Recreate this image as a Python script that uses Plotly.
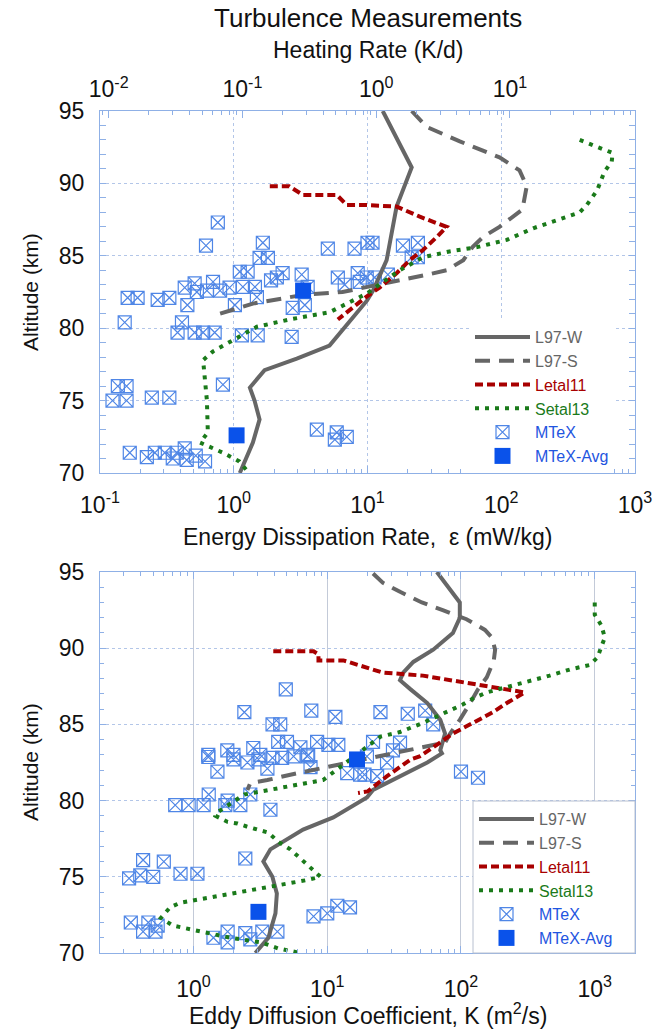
import math
import plotly.graph_objects as go

# ---------------- data ----------------
# Upper panel: energy dissipation rate (mW/kg) vs altitude (km)
l97w_eps = [13, 21.4, 16.5, 13.9, 11, 9.9, 5.2, 2.96, 1.7, 1.32, 1.43, 1.56, 1.39, 1.11]
l97w_alt = [95, 91.1, 88.4, 84.7, 82.6, 81.9, 78.8, 77.9, 77.1, 75.9, 75.0, 73.7, 72.1, 70.0]

l97s_eps = [21.4, 27.7, 49, 97, 137, 155, 144, 97, 73, 61, 52, 39, 28, 14, 6.5, 3.3, 1.39, 0.79]
l97s_alt = [95, 93.9, 92.9, 91.8, 90.9, 89.8, 88.2, 87.0, 86.3, 85.6, 84.7, 84.0, 83.7, 83.1,
            82.5, 82.3, 81.7, 81.0]

letal_eps = [1.86, 2.6, 3.3, 5.9, 7.0, 9.9, 16.5, 24.6, 39, 33, 26, 20.7, 16.5, 12.3, 9.9, 7.8, 6.0]
letal_alt = [89.8, 89.8, 89.2, 89.2, 88.5, 88.5, 88.4, 87.7, 87.0, 86.3, 85.4, 84.7, 83.8,
             82.8, 82.2, 81.4, 80.6]

setal_eps = [386, 575, 680, 670, 590, 520, 435, 386, 274, 173, 110, 66, 41, 26, 17.4, 12.3, 9.9,
             5.2, 2.6, 1.49, 0.98, 0.70, 0.59, 0.63, 0.64, 0.56, 0.83, 1.1, 1.3]
setal_alt = [93.0, 92.4, 92.1, 91.5, 90.8, 89.5, 88.5, 88.0, 87.5, 86.9, 86.1, 85.6, 85.3, 84.9,
             84.0, 83.0, 82.4, 81.1, 80.6, 80.1, 79.2, 78.4, 77.8, 75.0, 72.8, 72.1, 71.4, 70.8, 70.0]

mtex_eps = [0.76, 0.62, 1.65, 5.05, 1.56, 1.80, 10.0, 8.0, 10.9, 18.4, 23.8, 21.4, 23.8,
            0.161, 0.191, 0.27, 0.33, 0.43, 0.45, 0.53, 0.63, 0.70, 0.79, 0.93, 1.02, 1.11, 1.27,
            1.17, 1.44, 1.49, 2.10, 2.32, 3.22, 3.57, 2.76, 3.40, 6.0, 6.76, 8.45, 8.75, 9.87,
            11.3, 14.2, 0.51, 1.9,
            0.153, 0.38, 0.41, 0.51, 0.59, 0.72, 1.15, 1.51, 2.71,
            0.83, 0.136, 0.158, 0.124, 0.158, 0.244, 0.33,
            0.167, 0.224, 0.257, 0.305, 0.375, 0.43, 0.445, 0.61, 0.35, 0.52,
            4.18, 5.89, 5.7, 7.0]
mtex_alt = [87.3, 85.7, 85.9, 85.5, 84.85, 84.85, 85.9, 85.5, 85.9, 85.7, 85.9, 84.9, 84.9,
            82.1, 82.1, 81.95, 82.1, 82.8, 81.6, 82.5, 82.6, 83.2, 82.6, 82.8, 81.6, 83.9, 83.9,
            82.85, 82.85, 82.15, 83.5, 83.8, 83.7, 82.85, 81.4, 81.6, 83.5, 83.0, 83.8, 83.2, 83.5,
            83.5, 83.7, 83.1, 83.3,
            80.4, 79.7, 80.4, 79.7, 79.7, 79.7, 79.5, 79.5, 79.4,
            76.1, 76.0, 76.0, 75.0, 75.0, 75.2, 75.2,
            71.4, 71.1, 71.4, 71.4, 71.4, 71.7, 70.9, 70.8, 71.0, 71.2,
            73.0, 72.8, 72.3, 72.5]

avg_eps = [3.3, 1.05]
avg_alt = [82.6, 72.6]

# Lower panel: eddy diffusion coefficient (m^2/s) vs altitude (km)
l97w_k = [66, 83, 98, 98, 87, 62, 44, 37, 35, 42, 56, 70, 76, 70, 72, 56, 35, 22, 19.8, 11.1,
          6.6, 4.6, 3.76, 3.33, 3.89, 4.2, 4.1, 3.63, 2.9]
l97w_k_alt = [95, 93.8, 93.0, 92.0, 91.0, 89.9, 89.1, 88.4, 87.9, 87.3, 86.4, 85.3, 84.4, 83.3,
              83.1, 82.5, 81.6, 80.7, 80.2, 78.9, 78.1, 77.3, 76.8, 76.0, 75.0, 73.9, 72.6, 71.0, 70.0]

l97s_k = [22, 26, 35, 51, 73, 110, 151, 170, 180, 176, 156, 134, 117, 98, 83, 76, 35, 21, 10.5,
          7.5, 5.3, 3.57, 2.66, 2.53]
l97s_k_alt = [94.9, 94.3, 93.7, 93.0, 92.5, 91.9, 91.2, 90.7, 89.9, 89.2, 88.1, 87.3, 86.4, 85.3,
              84.4, 83.8, 83.2, 82.8, 82.3, 82.0, 81.7, 81.35, 81.15, 80.7]

letal_k = [3.95, 7.9, 8.6, 8.6, 13.2, 16.7, 20, 26, 52, 98, 195, 300, 220, 173, 123, 87, 62, 49,
           42, 28, 20, 17]
letal_k_alt = [89.8, 89.8, 89.6, 89.2, 89.2, 88.9, 88.7, 88.4, 88.2, 87.8, 87.4, 87.1, 86.4, 85.8,
               85.1, 84.4, 83.5, 82.9, 82.7, 81.6, 80.6, 80.5]

setal_k = [1000, 1000, 1120, 1190, 1120, 1050, 918, 650, 460, 310, 220, 156, 123, 103, 73, 52, 35,
           25, 9.3, 5.5, 3.6, 2.4, 1.49, 1.46, 1.8, 2.13, 2.5, 3.06, 3.63, 4.3, 5.3, 6.3, 7.5, 8.9,
           7.2, 5.3, 3.57, 2.0, 1.19, 0.8, 0.67, 0.57, 0.70, 1.0, 1.23, 1.89, 3.2, 4.3, 6.3]
setal_k_alt = [93.0, 92.2, 91.5, 90.7, 90.1, 89.4, 88.9, 88.6, 88.2, 87.8, 87.5, 87.1, 86.7, 86.3,
               85.7, 85.1, 84.5, 84.2, 81.35, 81.0, 80.7, 80.4, 79.2, 79.0, 78.6, 78.5, 78.3, 78.1,
               77.9, 77.3, 76.8, 76.2, 75.6, 75.0, 74.8, 74.6, 74.3, 73.9, 73.6, 73.3, 73.0, 72.3,
               71.8, 71.5, 71.3, 71.0, 70.7, 70.3, 70.0]

mtex_k = [4.9, 2.4, 7.6, 11.5, 3.9, 4.45, 25, 40, 54, 62,
          1.29, 1.79, 1.99, 2.8, 3.16, 4.3, 5.0, 6.3, 7.2, 8.4, 10.2, 12.1,
          1.29, 1.99, 2.53, 3.06, 3.9, 4.6, 5.6, 7.1, 14.1, 17.6, 1.51, 3.57, 7.5,
          22, 35, 31, 19.8, 23.6, 19, 28, 100, 134,
          0.73, 0.92, 1.19, 1.3, 1.73, 2.24, 1.8, 2.66, 3.76,
          0.33, 0.40, 0.42, 0.50, 0.60, 0.80, 1.07, 2.44,
          0.34, 0.42, 0.46, 0.52, 0.54, 1.41, 1.8, 1.8, 2.44, 3.27, 4.24, 2.66,
          7.9, 10, 11.9, 14.8]
mtex_k_alt = [87.3, 85.8, 85.9, 85.5, 85.0, 85.0, 85.8, 85.7, 85.9, 85.0,
              83.0, 83.3, 83.0, 83.45, 83.0, 83.85, 83.85, 83.5, 83.0, 83.85, 83.65, 83.65,
              82.86, 82.7, 82.5, 82.7, 82.8, 82.8, 82.9, 82.9, 81.8, 81.7, 81.9, 82.1, 82.2,
              83.85, 83.8, 83.3, 82.9, 81.6, 81.7, 82.5, 81.9, 81.5,
              79.7, 79.7, 79.7, 80.4, 79.7, 79.7, 80.0, 80.4, 79.4,
              74.9, 75.1, 76.1, 75.0, 76.0, 75.2, 75.2, 76.2,
              72.0, 71.4, 72.0, 71.4, 71.8, 71.0, 71.4, 70.7, 71.3, 71.4, 71.4, 70.9,
              72.4, 72.6, 73.1, 73.0]

avg_k = [16.7, 3.06]
avg_k_alt = [82.7, 72.7]

eps_ticks = [0.1, 1, 10, 100, 1000]
k_ticks = [1, 10, 100, 1000]
heat_ticks = [0.01, 0.1, 1, 10]
alt_ticks = [70, 75, 80, 85, 90, 95]

# heating rate (K/d) per unit dissipation (mW/kg): 86400 s/d / cp / 1000
HR_PER_EPS = 86400 / 1004 / 1000

# ---------------- style ----------------
FONT = "Liberation Sans, Arial, sans-serif"
GRAY = "#666666"
RED = "#a80000"
GREEN = "#1a7a1a"
BLUE_TXT = "#1f55e0"
MTEX_C = "#4f86e6"
AVG_C = "#0a52ea"
AXIS_C = "#8fb0e6"
GRID_C = "#b3c6e8"
TXT = "#111111"


def sup(v):
    e = int(round(math.log10(v)))
    return f"10<sup>{e}</sup>"


def minor_vals(lo, hi):
    out = []
    for e in range(lo, hi + 1):
        for m in range(2, 10):
            out.append(m * 10 ** e)
    return out


def colored(name, color):
    return f"<span style='color:{color}'>{name}</span>"


fig = go.Figure()


def add_panel(legend, xa, ya, w, s, l, st, mt, av):
    # individual measurements first, model profiles on top
    fig.add_trace(go.Scatter(x=mt[0], y=mt[1], mode="markers", name=colored("MTeX", BLUE_TXT),
                             marker=dict(symbol="square-x-open", size=13, color=MTEX_C,
                                         line=dict(width=1.2, color=MTEX_C)),
                             xaxis=xa, yaxis=ya, legend=legend, legendrank=5))
    fig.add_trace(go.Scatter(x=w[0], y=w[1], mode="lines", name=colored("L97-W", GRAY),
                             line=dict(color=GRAY, width=4), xaxis=xa, yaxis=ya,
                             legend=legend, legendrank=1))
    fig.add_trace(go.Scatter(x=s[0], y=s[1], mode="lines", name=colored("L97-S", GRAY),
                             line=dict(color=GRAY, width=4, dash="15px,9px"), xaxis=xa, yaxis=ya,
                             legend=legend, legendrank=2))
    fig.add_trace(go.Scatter(x=l[0], y=l[1], mode="lines", name=colored("Letal11", RED),
                             line=dict(color=RED, width=4, dash="8px,4px"), xaxis=xa, yaxis=ya,
                             legend=legend, legendrank=3))
    fig.add_trace(go.Scatter(x=st[0], y=st[1], mode="lines", name=colored("Setal13", GREEN),
                             line=dict(color=GREEN, width=4, dash="4px,6px"), xaxis=xa, yaxis=ya,
                             legend=legend, legendrank=4))
    fig.add_trace(go.Scatter(x=av[0], y=av[1], mode="markers", name=colored("MTeX-Avg", BLUE_TXT),
                             marker=dict(symbol="square", size=16, color=AVG_C),
                             xaxis=xa, yaxis=ya, legend=legend, legendrank=6))


add_panel("legend", "x", "y",
          (l97w_eps, l97w_alt), (l97s_eps, l97s_alt), (letal_eps, letal_alt),
          (setal_eps, setal_alt), (mtex_eps, mtex_alt), (avg_eps, avg_alt))
add_panel("legend2", "x2", "y2",
          (l97w_k, l97w_k_alt), (l97s_k, l97s_k_alt), (letal_k, letal_k_alt),
          (setal_k, setal_k_alt), (mtex_k, mtex_k_alt), (avg_k, avg_k_alt))

# carrier trace for the heating-rate axis
fig.add_trace(go.Scatter(x=list(heat_ticks), y=[None] * len(heat_ticks), mode="markers",
                         xaxis="x3", yaxis="y", showlegend=False, hoverinfo="skip"))

XDOM = [100 / 657, 635 / 657]
Y1 = [1 - 473 / 1032, 1 - 111 / 1032]
Y2 = [1 - 953 / 1032, 1 - 572 / 1032]

tickfont = dict(family=FONT, size=23, color=TXT)

common_x = dict(type="log", showline=True, linecolor=AXIS_C, linewidth=1, ticks="inside",
                ticklen=7, tickcolor=AXIS_C, tickfont=tickfont, showgrid=True,
                gridcolor=GRID_C, griddash="dot", gridwidth=1, zeroline=False,
                tickmode="array", automargin=False, ticklabelstandoff=11)
common_y = dict(range=[70, 95], showline=True, linecolor=AXIS_C, linewidth=1, ticks="inside",
                ticklen=6, tickcolor=AXIS_C, tickfont=tickfont, showgrid=True,
                gridcolor=GRID_C, griddash="dot", gridwidth=1, zeroline=False,
                tickmode="array", tickvals=alt_ticks, ticktext=[str(v) for v in alt_ticks],
                mirror="allticks", automargin=False, ticklabelstandoff=10,
                minor=dict(ticks="inside", ticklen=4, tickcolor=AXIS_C, dtick=1, showgrid=False))

legend_font = dict(family=FONT, size=16)

fig.update_layout(
    width=657, height=1032, margin=dict(l=0, r=0, t=0, b=0, autoexpand=False),
    paper_bgcolor="white", plot_bgcolor="white",
    font=dict(family=FONT, color=TXT),
    xaxis=dict(common_x, domain=XDOM, anchor="y", range=[-1, 3], mirror=True,
               tickvals=eps_ticks, ticktext=[sup(v) for v in eps_ticks],
               minor=dict(ticks="inside", ticklen=4, tickcolor=AXIS_C,
                          tickvals=minor_vals(-1, 2), showgrid=False)),
    xaxis3=dict(type="log", overlaying="x", side="top", anchor="y",
                range=[math.log10(0.1 * HR_PER_EPS), math.log10(1000 * HR_PER_EPS)],
                showline=False, ticks="inside", ticklen=7, tickcolor=AXIS_C, tickfont=tickfont,
                showgrid=False, zeroline=False, tickmode="array", tickvals=heat_ticks,
                ticktext=[sup(v) for v in heat_ticks], automargin=False, ticklabelstandoff=8,
                minor=dict(ticks="inside", ticklen=4, tickcolor=AXIS_C,
                           tickvals=minor_vals(-3, 1), showgrid=False)),
    yaxis=dict(common_y, domain=Y1, anchor="x"),
    xaxis2=dict(common_x, domain=XDOM, anchor="y2",
                range=[math.log10(0.2), math.log10(2000)], mirror="allticks",
                griddash="solid", gridcolor="#c3cad8", ticklabelstandoff=15,
                tickvals=k_ticks, ticktext=[sup(v) for v in k_ticks],
                minor=dict(ticks="inside", ticklen=4, tickcolor=AXIS_C,
                           tickvals=minor_vals(-1, 3), showgrid=False)),
    yaxis2=dict(common_y, domain=Y2, anchor="x2"),
    legend=dict(x=470 / 657, y=1 - 320 / 1032, xanchor="left", yanchor="top",
                bgcolor="white", font=legend_font, itemwidth=55, tracegroupgap=0),
    legend2=dict(x=474 / 657, y=1 - 802 / 1032, xanchor="left", yanchor="top",
                 bgcolor="rgba(0,0,0,0)", borderwidth=0,
                 font=legend_font, itemwidth=55, tracegroupgap=0),
    showlegend=True,
)

# white frame behind the lower legend
fig.add_shape(type="rect", xref="paper", yref="paper", layer="above",
              x0=473 / 657, x1=635 / 657, y0=1 - 953 / 1032, y1=1 - 801 / 1032,
              fillcolor="white", line=dict(color="#b8c0d0", width=1))

ann = dict(showarrow=False, xref="paper", yref="paper", xanchor="center", yanchor="middle")
cx = (100 + 635) / 2 / 657
fig.add_annotation(ann, x=cx, y=1 - 18 / 1032, text="Turbulence Measurements",
                   font=dict(family=FONT, size=26, color=TXT))
fig.add_annotation(ann, x=cx, y=1 - 50 / 1032, text="Heating Rate (K/d)",
                   font=dict(family=FONT, size=23, color=TXT))
fig.add_annotation(ann, x=cx, y=1 - 537 / 1032, text="Energy Dissipation Rate,  \u03b5 (mW/kg)",
                   font=dict(family=FONT, size=23, color=TXT))
fig.add_annotation(ann, x=cx, y=1 - 1014 / 1032,
                   text="Eddy Diffusion Coefficient, K (m<sup>2</sup>/s)",
                   font=dict(family=FONT, size=23, color=TXT))
fig.add_annotation(ann, x=30 / 657, y=1 - 292 / 1032, text="Altitude (km)", textangle=-90,
                   font=dict(family=FONT, size=21, color=TXT))
fig.add_annotation(ann, x=30 / 657, y=1 - 762 / 1032, text="Altitude (km)", textangle=-90,
                   font=dict(family=FONT, size=21, color=TXT))

fig.write_html("out.html")
